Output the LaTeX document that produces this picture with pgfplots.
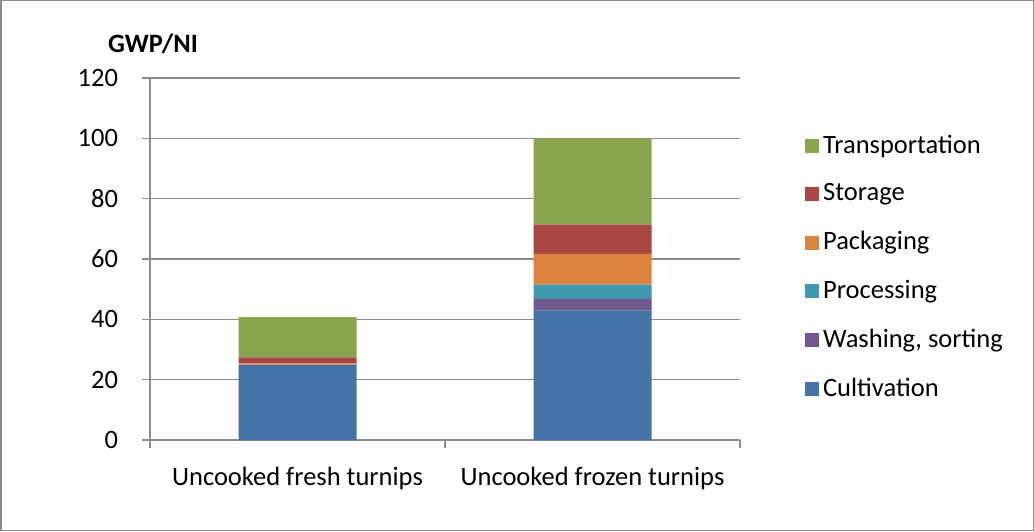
\documentclass[border=0pt]{standalone}
\usepackage{pgfplots}
\pgfplotsset{compat=1.18}
\usepackage{fontspec}
\setmainfont{Carlito}

\definecolor{cCult}{HTML}{4572A7}
\definecolor{cWash}{HTML}{71588F}
\definecolor{cProc}{HTML}{4198AF}
\definecolor{cPack}{HTML}{DB843D}
\definecolor{cStor}{HTML}{AA4643}
\definecolor{cTran}{HTML}{89A54E}
\definecolor{cAxis}{HTML}{8C8C8C}

\begin{document}
\begin{tikzpicture}[x=1pt,y=1pt]
\useasboundingbox (0,0) rectangle (1034,531);
\draw[cAxis, line width=1.5pt] (0.75,0.75) rectangle (1033.25,530.25);
\fontsize{26.5}{31}\selectfont
\begin{axis}[
  at={(150pt,91pt)}, anchor=south west,
  scale only axis, width=590pt, height=362pt,
  ybar stacked, bar width=0.4,
  xmin=-0.5, xmax=1.5, ymin=0, ymax=120,
  xtick={0,1},
  xticklabels={Uncooked fresh turnips, Uncooked frozen turnips},
  minor xtick={-0.5,0.5,1.5},
  ytick={0,20,40,60,80,100,120},
  axis x line*=bottom, axis y line*=left,
  axis line style={cAxis, line width=1.5pt},
  tick align=outside,
  major x tick style={draw=none},
  minor x tick style={cAxis, line width=1.5pt},
  y tick style={cAxis, line width=1.5pt},
  major tick length=8pt, minor tick length=8pt,
  ymajorgrids, grid style={cAxis, line width=1.5pt},
  /pgf/number format/assume math mode=true,
  tick label style={font=\fontsize{26.5}{31}\selectfont},
  yticklabel style={xshift=-15pt},
  xticklabel style={yshift=-10pt},
  legend cell align=left,
  reverse legend,
  legend style={at={(1.110,0.4765)}, anchor=west, draw=none, fill=none,
    font=\fontsize{26.5}{31}\selectfont, inner sep=0pt,
    nodes={inner xsep=4pt, inner ysep=0pt}, row sep=26.5pt},
  legend image code/.code={\fill[#1,draw=none] (0pt,-7pt) rectangle (14pt,7pt);},
  every axis plot/.append style={draw=none},
  clip=false,
]
\addplot[fill=cCult] coordinates {(0,24.5) (1,43.0)};
\addplot[fill=cWash] coordinates {(0,0.3) (1,3.8)};
\addplot[fill=cProc] coordinates {(0,0.2) (1,4.7)};
\addplot[fill=cPack] coordinates {(0,0.4) (1,10.2)};
\addplot[fill=cStor] coordinates {(0,2.0) (1,9.7)};
\addplot[fill=cTran] coordinates {(0,13.3) (1,28.6)};
\legend{Cultivation, {Washing, sorting}, Processing, Packaging, Storage, Transportation}
\end{axis}
\node[font=\fontsize{26.5}{31}\selectfont\bfseries] at (153,487) {GWP/NI};
\end{tikzpicture}
\end{document}
